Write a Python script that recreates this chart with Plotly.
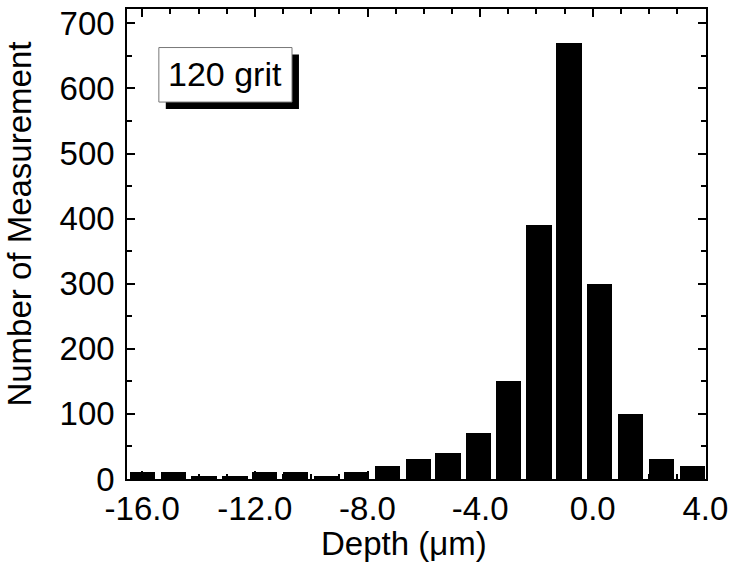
import plotly.graph_objects as go

# Data
depth_centers = [-15.99, -14.88, -13.80, -12.71, -11.65, -10.55, -9.46, -8.40, -7.28,
                 -6.20, -5.14, -4.05, -2.99, -1.91, -0.85, 0.24, 1.34, 2.43, 3.53]
counts = [10, 10, 5, 5, 10, 10, 5, 10, 20, 30, 40, 70, 150, 390, 670, 300, 100, 30, 20]

x_tickvals = [-16, -12, -8, -4, 0, 4]
x_ticktext = ["-16.0", "-12.0", "-8.0", "-4.0", "0.0", "4.0"]
y_tickvals = [0, 100, 200, 300, 400, 500, 600, 700]
y_ticktext = ["0", "100", "200", "300", "400", "500", "600", "700"]

FONT = "Liberation Sans, Arial, sans-serif"

fig = go.Figure()
fig.add_trace(go.Bar(
    x=depth_centers, y=counts, width=0.9,
    marker=dict(color="black", line=dict(width=0)),
    showlegend=False,
))

axis_common = dict(
    showline=True, linecolor="black", linewidth=1.5, mirror="allticks",
    ticks="inside", ticklen=8, tickwidth=1.5, tickcolor="black",
    showgrid=False, zeroline=False,
    tickfont=dict(family=FONT, size=33, color="black"),
)

fig.update_xaxes(
    range=[-16.54, 4.02], tickmode="array", tickvals=x_tickvals, ticktext=x_ticktext,
    minor=dict(ticks="inside", dtick=1, tick0=0, ticklen=5, tickwidth=1.5, tickcolor="black"),
    **axis_common,
)
fig.update_yaxes(
    range=[0, 722], tickmode="array", tickvals=y_tickvals, ticktext=y_ticktext,
    minor=dict(ticks="inside", dtick=50, tick0=0, ticklen=5, tickwidth=1.5, tickcolor="black"),
    ticklabelstandoff=4,
    **axis_common,
)

# Inset label box with shadow
fig.add_shape(type="rect", xref="paper", yref="paper",
              x0=0.067, x1=0.297, y0=0.787, y1=0.903,
              fillcolor="black", line=dict(width=0), layer="above")
fig.add_shape(type="rect", xref="paper", yref="paper",
              x0=0.055, x1=0.285, y0=0.802, y1=0.918,
              fillcolor="white", line=dict(color="#777777", width=1), layer="above")
fig.add_annotation(text="120 grit", xref="paper", yref="paper", x=0.169, y=0.861,
                   showarrow=False, xanchor="center", yanchor="middle",
                   font=dict(family=FONT, size=34, color="black"))

# Axis titles as annotations for precise placement
fig.add_annotation(text="Depth (\u03bcm)", xref="paper", yref="paper", x=0.478, y=-0.137,
                   showarrow=False, xanchor="center", yanchor="middle",
                   font=dict(family=FONT, size=33, color="black"))
fig.add_annotation(text="Number of Measurement", xref="paper", yref="paper", x=-0.186, y=0.542,
                   showarrow=False, xanchor="center", yanchor="middle", textangle=-90,
                   font=dict(family=FONT, size=33, color="black"))

fig.update_layout(
    width=733, height=565,
    margin=dict(l=127, r=24, t=5, b=86),
    plot_bgcolor="white", paper_bgcolor="white",
    bargap=0,
)

fig.write_html("out.html")
